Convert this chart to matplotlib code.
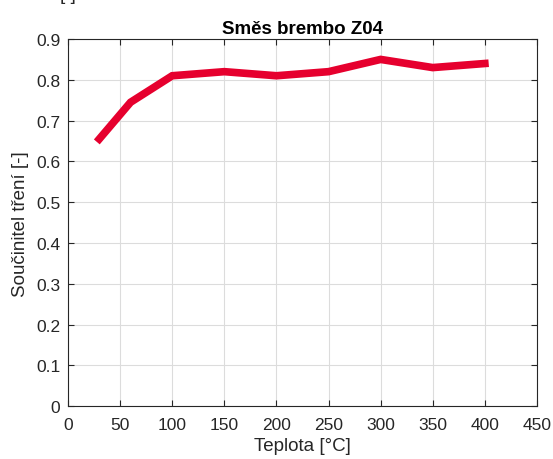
import matplotlib
matplotlib.use("Agg")
import matplotlib.pyplot as plt

plt.rcParams['font.family'] = ['Liberation Sans', 'DejaVu Sans']

temperature = [30, 60, 100, 150, 200, 250, 300, 350, 400]
friction = [0.655, 0.745, 0.81, 0.82, 0.81, 0.82, 0.85, 0.83, 0.84]
x_ticks = [0, 50, 100, 150, 200, 250, 300, 350, 400, 450]
y_ticks = [0, 0.1, 0.2, 0.3, 0.4, 0.5, 0.6, 0.7, 0.8, 0.9]
y_tick_labels = ['0', '0.1', '0.2', '0.3', '0.4', '0.5', '0.6', '0.7', '0.8', '0.9']

fig = plt.figure(figsize=(5.53, 4.60), dpi=100)
ax = fig.add_axes([0.123, 0.1146, 0.848, 0.7984])

ax.plot(temperature, friction, color='#E6002E', linewidth=5.5, solid_joinstyle='miter')

ax.set_xlim(0, 450)
ax.set_ylim(0, 0.9)
ax.set_xticks(x_ticks)
ax.set_xticklabels([str(v) for v in x_ticks])
ax.set_yticks(y_ticks)
ax.set_yticklabels(y_tick_labels)

ax.grid(True, color='#DCDCDC', linewidth=0.8)
ax.set_axisbelow(True)
ax.tick_params(direction='in', length=4, width=0.8, colors='#262626',
               labelsize=12.5, top=True, right=True)
ax.tick_params(axis='x', pad=7.5)
ax.tick_params(axis='y', pad=5.5)
for s in ax.spines.values():
    s.set_color('#262626')
    s.set_linewidth(0.8)

ax.set_title('Směs brembo Z04', fontsize=13.5, fontweight='bold', color='black', pad=4)
ax.set_xlabel('Teplota [°C]', fontsize=13.5, color='#262626', labelpad=3.5)
ax.set_ylabel('Součinitel tření [-]', fontsize=13.5, color='#262626', labelpad=5)

fig.text(0.123, 1 - 4 / 460, '[-]', fontsize=13.5, color='#262626',
         ha='center', va='bottom')

fig.savefig('out.png', dpi=100)
